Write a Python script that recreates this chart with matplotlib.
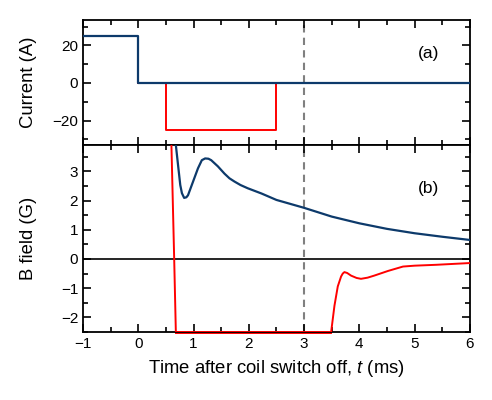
import matplotlib
matplotlib.use("Agg")
import matplotlib.pyplot as plt
from matplotlib.ticker import MultipleLocator

plt.rcParams['font.family'] = ['Liberation Sans', 'DejaVu Sans']
plt.rcParams['mathtext.fontset'] = 'custom'
plt.rcParams['mathtext.it'] = 'Liberation Sans:italic'
plt.rcParams['mathtext.rm'] = 'Liberation Sans'

# ---- data ----
# panel (a): coil currents
cur_blue_t = [-1.0, 0.0, 0.0, 6.0]
cur_blue_i = [25.0, 25.0, 0.0, 0.0]
cur_red_t = [0.0, 0.5, 0.5, 2.5, 2.5, 6.0]
cur_red_i = [0.0, 0.0, -25.0, -25.0, 0.0, 0.0]

# panel (b): B field
b_blue_t = [0.62, 0.65, 0.68, 0.72, 0.76, 0.79, 0.83, 0.87, 0.90, 0.99, 1.08, 1.15,
            1.21, 1.27, 1.32, 1.44, 1.56, 1.65, 1.74, 1.85, 1.98, 2.23, 2.50, 3.00,
            3.50, 4.00, 4.50, 5.00, 5.50, 6.00]
b_blue_b = [6.0, 4.8, 3.9, 3.21, 2.53, 2.25, 2.09, 2.11, 2.18, 2.64, 3.10, 3.38,
            3.44, 3.43, 3.38, 3.17, 2.92, 2.76, 2.65, 2.53, 2.42, 2.24, 2.02, 1.75,
            1.45, 1.22, 1.03, 0.88, 0.76, 0.65]
b_red_t = [0.55, 0.60, 0.65, 0.68, 3.49, 3.55, 3.61, 3.67, 3.70, 3.73, 3.78, 3.85,
           3.95, 4.03, 4.15, 4.27, 4.52, 4.79, 5.00, 5.39, 6.00]
b_red_b = [7.9, 3.9, 0.0, -2.5, -2.5, -1.6, -0.94, -0.60, -0.50, -0.45, -0.48, -0.57,
           -0.65, -0.68, -0.64, -0.57, -0.41, -0.26, -0.23, -0.20, -0.14]
# saturated part of the red trace, lying along the bottom edge
b_red_sat_t = [0.68, 3.49]
b_red_sat_b = [-2.53, -2.53]

t_marker = 3.0

blue = '#0d3a6b'
red = '#ff0000'

fig = plt.figure(figsize=(4.92, 4.0), dpi=100)
ax1 = fig.add_axes([0.1687, 0.6375, 0.7863, 0.3125])
ax2 = fig.add_axes([0.1687, 0.17, 0.7863, 0.4675])

ax1.plot(cur_red_t, cur_red_i, color=red, lw=1.4, zorder=3)
ax1.plot(cur_blue_t, cur_blue_i, color=blue, lw=1.6, zorder=4)
ax1.axvline(t_marker, color='#808080', lw=1.5, ls=(0, (3.5, 2.5)), zorder=1)
ax1.set_xlim(-1, 6)
ax1.set_ylim(-33, 33.5)
ax1.yaxis.set_major_locator(MultipleLocator(20))
ax1.yaxis.set_minor_locator(MultipleLocator(10))
ax1.set_ylabel('Current (A)', fontsize=13.3)
ax1.text(5.25, 15.5, '(a)', fontsize=12.5, ha='center', va='center')
ax1.tick_params(labelbottom=False)

ax2.axhline(0, color='black', lw=1.2, zorder=2)
ax2.plot(b_red_t, b_red_b, color=red, lw=1.4, zorder=3)
ax2.plot(b_red_sat_t, b_red_sat_b, color=red, lw=1.4, zorder=2, clip_on=False)
ax2.plot(b_blue_t, b_blue_b, color=blue, lw=1.6, zorder=4)
ax2.axvline(t_marker, color='#808080', lw=1.5, ls=(0, (3.5, 2.5)), zorder=1)
ax2.set_xlim(-1, 6)
ax2.set_ylim(-2.5, 3.9)
ax2.yaxis.set_major_locator(MultipleLocator(1))
ax2.yaxis.set_minor_locator(MultipleLocator(0.5))
ax2.set_ylabel('B field (G)', fontsize=13.3)
ax2.set_xlabel('Time after coil switch off, $\\mathit{t}$ (ms)', fontsize=13.3, labelpad=5)
ax2.text(5.25, 2.4, '(b)', fontsize=12.5, ha='center', va='center')

for ax in (ax1, ax2):
    ax.xaxis.set_major_locator(MultipleLocator(1))
    ax.xaxis.set_minor_locator(MultipleLocator(0.5))
    ax.tick_params(which='both', direction='in', top=True, right=True, width=1.2)
    ax.tick_params(which='major', length=6, labelsize=11)
    ax.tick_params(which='minor', length=3.5)
    for s in ax.spines.values():
        s.set_linewidth(1.3)
    ax.yaxis.set_label_coords(-0.119, 0.5)

fig.savefig('out.png', dpi=100)
